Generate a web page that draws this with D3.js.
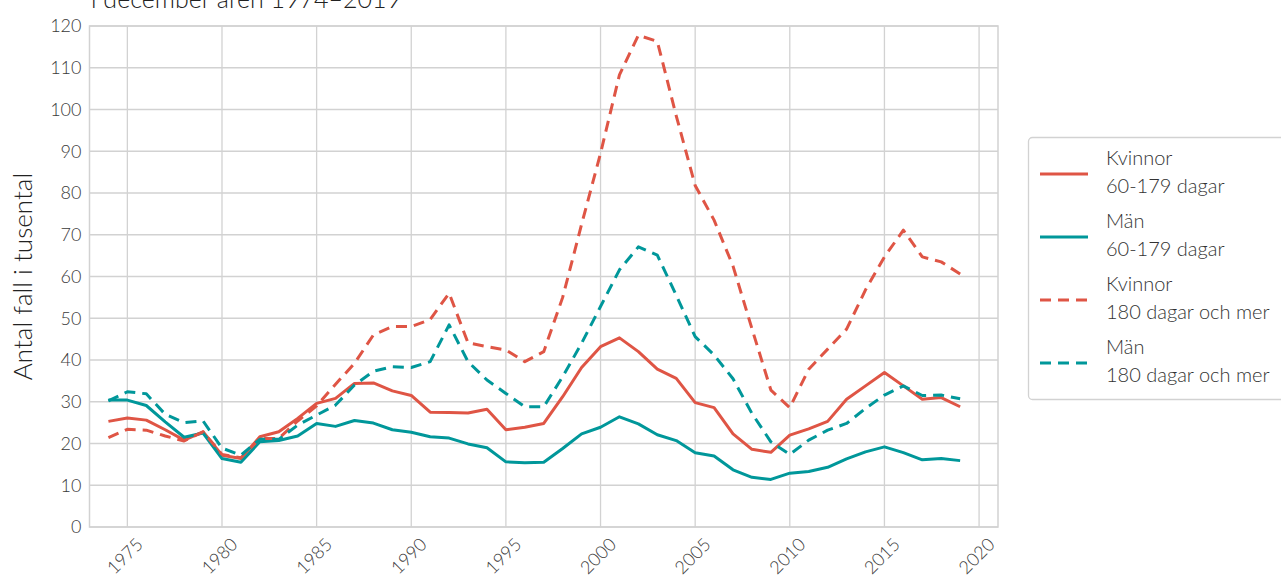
<!DOCTYPE html>
<html>
<head>
<meta charset="utf-8">
<script src="https://cdn.jsdelivr.net/npm/d3@7"></script>
<style>
  body { margin: 0; background: #fff; }
  svg text { font-family: Lato, sans-serif; font-weight: 300; }
</style>
</head>
<body>
<div id="chart"></div>
<script>
const years = d3.range(1974, 2020);

const kvinnor60 = [25.3, 26.1, 25.6, 23.3, 20.8, 22.8, 17.2, 16.4, 21.6, 22.8,
    26.0, 29.6, 30.8, 34.4, 34.5, 32.6, 31.5, 27.5, 27.4, 27.3,
    28.2, 23.3, 23.9, 24.8, 31.2, 38.2, 43.2, 45.3, 42.0, 37.8,
    35.6, 29.8, 28.6, 22.3, 18.6, 17.9, 22.0, 23.5, 25.3, 30.6,
    33.8, 37.0, 33.8, 30.6, 31.0, 28.8];

const man60 = [30.4, 30.4, 29.1, 25.2, 21.5, 22.5, 16.4, 15.5, 20.4, 20.7,
    21.8, 24.8, 24.1, 25.5, 24.9, 23.3, 22.7, 21.6, 21.3, 19.9,
    19.0, 15.6, 15.4, 15.5, 18.8, 22.3, 23.9, 26.4, 24.7, 22.1,
    20.7, 17.8, 17.0, 13.7, 11.9, 11.4, 12.9, 13.3, 14.3, 16.3,
    18.0, 19.2, 17.8, 16.1, 16.4, 15.9];

const kvinnor180 = [21.4, 23.4, 23.2, 21.8, 20.6, 22.8, 17.4, 16.6, 21.2, 21.2,
    25.4, 29.0, 34.2, 39.2, 46.0, 48.0, 48.0, 49.7, 56.0, 44.1,
    43.2, 42.4, 39.6, 42.0, 55.0, 72.5, 89.5, 108.3, 117.8, 116.3,
    98.5, 81.8, 73.5, 62.5, 47.5, 32.8, 28.6, 37.8, 42.6, 47.4,
    56.8, 64.7, 71.1, 64.7, 63.5, 60.6];

const man180 = [30.2, 32.4, 31.9, 27.0, 25.0, 25.4, 18.9, 17.2, 21.0, 21.0,
    24.4, 26.8, 29.2, 34.0, 37.3, 38.4, 38.2, 39.6, 48.4, 39.6,
    35.2, 32.0, 28.8, 28.8, 36.0, 44.0, 52.8, 61.6, 67.1, 65.1,
    55.5, 45.6, 41.2, 35.5, 27.2, 20.4, 17.4, 20.8, 23.2, 24.8,
    28.4, 31.6, 33.8, 31.5, 31.6, 30.7];

const seriesNames = [
    ['Kvinnor', '60-179 dagar'],
    ['Män', '60-179 dagar'],
    ['Kvinnor', '180 dagar och mer'],
    ['Män', '180 dagar och mer'],
];
const seriesColors = ['#df5545', '#00979a', '#df5545', '#00979a'];
const seriesDash = [null, null, '11,7', '11,7'];
const yTicks = d3.range(0, 121, 10);
const xTicks = d3.range(1975, 2021, 5);

const titleText = 'i december åren 1974–2019';
const yLabel = 'Antal fall i tusental';

const W = 1281;
const H = 579;
const margin = { top: 26, right: 283, bottom: 52, left: 89.5 };
const width = W - margin.left - margin.right;
const height = H - margin.top - margin.bottom;

const svg = d3.select('#chart').append('svg')
    .attr('width', W)
    .attr('height', H);

const g = svg.append('g')
    .attr('transform', `translate(${margin.left}, ${margin.top})`);

const x = d3.scaleLinear().domain([1973, 2021]).range([0, width]);
const y = d3.scaleLinear().domain([0, 120]).range([height, 0]);

// grid
g.append('g')
    .selectAll('line')
    .data(xTicks)
    .enter().append('line')
    .attr('x1', (d) => x(d)).attr('x2', (d) => x(d))
    .attr('y1', 0).attr('y2', height)
    .attr('stroke', '#d2d2d2').attr('stroke-width', 1.3);

g.append('g')
    .selectAll('line')
    .data(yTicks)
    .enter().append('line')
    .attr('x1', 0).attr('x2', width)
    .attr('y1', (d) => y(d)).attr('y2', (d) => y(d))
    .attr('stroke', '#d2d2d2').attr('stroke-width', 1.3);

g.append('rect')
    .attr('width', width).attr('height', height)
    .attr('fill', 'none')
    .attr('stroke', '#d2d2d2').attr('stroke-width', 1.5);

// axes
const yAxis = g.append('g')
    .call(d3.axisLeft(y).tickValues(yTicks).tickSize(0).tickPadding(8));
yAxis.select('.domain').remove();
yAxis.selectAll('text')
    .style('font-size', '18px')
    .attr('fill', '#3a3a3a');

const xAxis = g.append('g')
    .attr('transform', `translate(0, ${height})`)
    .call(d3.axisBottom(x).tickValues(xTicks).tickFormat(d3.format('d')).tickSize(0));
xAxis.select('.domain').remove();
xAxis.selectAll('text')
    .style('font-size', '18px')
    .attr('fill', '#3a3a3a')
    .attr('y', 0)
    .attr('dy', '0.35em')
    .style('text-anchor', 'middle')
    .attr('transform', 'translate(-3, 29) rotate(-45)');

// lines
const allSeries = [kvinnor60, man60, kvinnor180, man180];
const line = d3.line()
    .x((d, i) => x(years[i]))
    .y((d) => y(d));

g.selectAll('.series')
    .data(allSeries)
    .enter().append('path')
    .attr('class', 'series')
    .attr('d', (d) => line(d))
    .attr('fill', 'none')
    .attr('stroke', (d, i) => seriesColors[i])
    .attr('stroke-width', 3)
    .attr('stroke-linejoin', 'round')
    .attr('stroke-dasharray', (d, i) => seriesDash[i]);

// title (cut at top, as in the original)
svg.append('text')
    .attr('x', 91)
    .attr('y', 8)
    .style('font-size', '25px')
    .attr('fill', '#222')
    .text(titleText);

svg.append('text')
    .attr('transform', `translate(32, ${margin.top + height / 2}) rotate(-90)`)
    .style('text-anchor', 'middle')
    .style('font-size', '26px')
    .attr('fill', '#222')
    .text(yLabel);

// legend
const legend = svg.append('g').attr('transform', 'translate(1028, 137)');
legend.append('rect')
    .attr('x', 0.5).attr('y', 0.5)
    .attr('width', 270).attr('height', 262)
    .attr('rx', 4)
    .attr('fill', '#fff')
    .attr('stroke', '#d2d2d2').attr('stroke-width', 1.3);

const item = legend.selectAll('.item')
    .data(seriesNames)
    .enter().append('g')
    .attr('transform', (d, i) => `translate(0, ${37 + i * 63})`);

item.append('line')
    .attr('x1', 12).attr('x2', 60)
    .attr('stroke', (d, i) => seriesColors[i])
    .attr('stroke-width', 3)
    .attr('stroke-dasharray', (d, i) => seriesDash[i]);

item.append('text')
    .attr('x', 78).attr('y', -9)
    .style('font-size', '20px')
    .attr('fill', '#333')
    .text((d) => d[0]);

item.append('text')
    .attr('x', 78).attr('y', 19)
    .style('font-size', '20px')
    .attr('fill', '#333')
    .text((d) => d[1]);
</script>
</body>
</html>
